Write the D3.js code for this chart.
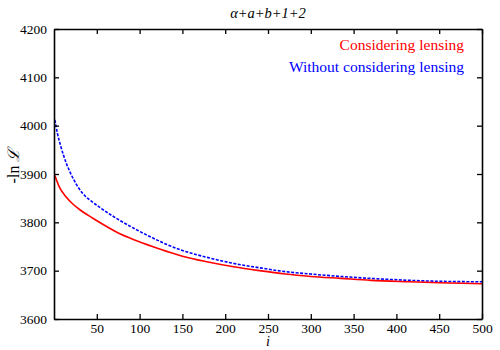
<!DOCTYPE html>
<html>
<head>
<meta charset="utf-8">
<script src="https://cdn.jsdelivr.net/npm/d3@7"></script>
<style>
  body { margin: 0; background: #fff; }
  svg { display: block; }
</style>
</head>
<body>
<svg id="chart" width="500" height="350"></svg>
<script>
  // data: [i, -ln L]
  var lensing = [[1,3897],[6,3874],[14,3853],[22,3838],[31,3825],[45,3809],[55,3798],[75,3778],
    [95,3763],[115,3750],[135,3738],[150,3730],[180,3718],[210,3708],[240,3700],[270,3693],
    [300,3688],[335,3684],[370,3680],[415,3677],[450,3675],[500,3673]];
  var noLensing = [[1,4012],[4,3984],[8,3957],[14,3924],[20,3899],[27,3876],[35,3857],[45,3842],
    [55,3829],[65,3817],[75,3806],[95,3786],[115,3768],[132,3754],[148,3743],[180,3727],
    [210,3715],[240,3706],[270,3698],[300,3693],[335,3688],[370,3684],[415,3680],[450,3678],[500,3677]];
  var xTicks = [50, 100, 150, 200, 250, 300, 350, 400, 450, 500];
  var yTicks = [3600, 3700, 3800, 3900, 4000, 4100, 4200];
  var seriesNames = ["Considering lensing", "Without considering lensing"];
  var seriesColors = ["#ff0000", "#0000ff"];

  var margin = {top: 29, right: 18, bottom: 31, left: 54};
  var width = 500 - margin.left - margin.right;
  var height = 350 - margin.top - margin.bottom;
  var serif = "'Liberation Serif', 'Times New Roman', serif";

  var svg = d3.select("#chart");
  var g = svg.append("g")
    .attr("transform", "translate(" + margin.left + "," + margin.top + ")");

  var x = d3.scaleLinear().domain([0, 500]).range([0, width]);
  var y = d3.scaleLinear().domain([3600, 4200]).range([height, 0]);

  // curves
  var line = d3.line()
    .x(function(d) { return x(d[0]); })
    .y(function(d) { return y(d[1]); })
    .curve(d3.curveMonotoneX);

  g.append("path").datum(noLensing)
    .attr("fill", "none").attr("stroke", seriesColors[1])
    .attr("stroke-width", 1.6).attr("stroke-dasharray", "3,1.5")
    .attr("d", line);
  g.append("path").datum(lensing)
    .attr("fill", "none").attr("stroke", seriesColors[0])
    .attr("stroke-width", 1.6)
    .attr("d", line);

  // axes, ticks drawn inward
  var fmt = d3.format("d");
  var axBottom = g.append("g").attr("transform", "translate(0," + height + ")")
    .call(d3.axisBottom(x).tickValues(xTicks).tickSizeInner(-5).tickSizeOuter(0).tickPadding(4).tickFormat(fmt));
  var axTop = g.append("g")
    .call(d3.axisTop(x).tickValues(xTicks).tickSizeInner(-5).tickSizeOuter(0).tickFormat(""));
  var axLeft = g.append("g")
    .call(d3.axisLeft(y).tickValues(yTicks).tickSizeInner(-5).tickSizeOuter(0).tickPadding(7).tickFormat(fmt));
  var axRight = g.append("g").attr("transform", "translate(" + width + ",0)")
    .call(d3.axisRight(y).tickValues(yTicks).tickSizeInner(-5).tickSizeOuter(0).tickFormat(""));

  [axBottom, axTop, axLeft, axRight].forEach(function(a) {
    a.attr("font-family", serif);
    a.select(".domain").attr("stroke", "#000").attr("stroke-width", 1.6);
    a.selectAll(".tick line").attr("stroke", "#000").attr("stroke-width", 1.3);
    a.selectAll("text").attr("font-family", serif).attr("font-size", 13.5).attr("fill", "#000");
  });

  // legend
  seriesNames.forEach(function(name, k) {
    g.append("text")
      .attr("x", width - 18).attr("y", 21 + k * 22)
      .attr("text-anchor", "end")
      .attr("font-family", serif)
      .attr("font-size", 15.5)
      .attr("fill", seriesColors[k])
      .text(name);
  });

  // title
  svg.append("text")
    .attr("x", 268).attr("y", 18)
    .attr("text-anchor", "middle")
    .attr("font-family", serif)
    .attr("font-size", 14.5)
    .attr("font-style", "italic")
    .text("\u03b1+a+b+1+2");

  // axis labels
  svg.append("text")
    .attr("x", 268).attr("y", 346)
    .attr("text-anchor", "middle")
    .attr("font-family", serif)
    .attr("font-size", 14)
    .attr("font-style", "italic")
    .text("i");

  svg.append("text")
    .attr("transform", "translate(19," + (margin.top + height / 2 - 8) + ") rotate(-90)")
    .attr("text-anchor", "middle")
    .attr("font-family", serif)
    .attr("font-size", 16)
    .html('-ln <tspan font-style="italic">\u2112</tspan>');
</script>
</body>
</html>
